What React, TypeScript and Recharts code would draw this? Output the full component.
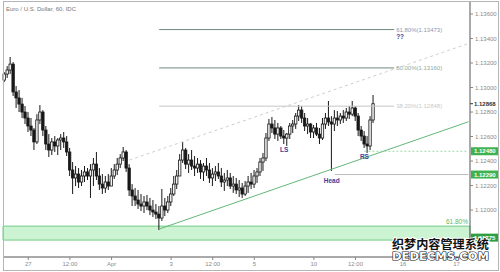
import React from 'react';
import {
  ComposedChart,
  Bar,
  XAxis,
  YAxis,
  ReferenceLine,
  ReferenceArea,
  ReferenceDot,
} from 'recharts';

// EUR/USD hourly candles (IDC feed)
const opens = [
  1.13061, 1.1311, 1.13143, 1.13191, 1.12964, 1.12915, 1.12865, 1.128, 1.12751, 1.12686,
  1.12653, 1.12556, 1.12735, 1.128, 1.12653, 1.12539, 1.1249, 1.12556, 1.12523, 1.12572,
  1.12588, 1.12556, 1.12474, 1.12327, 1.12262, 1.12294, 1.12229, 1.12278, 1.12311, 1.12278,
  1.12327, 1.12375, 1.12278, 1.12212, 1.1218, 1.12229, 1.12196, 1.12278, 1.12327, 1.12375,
  1.12425, 1.12474, 1.12343, 1.12164, 1.12115, 1.12082, 1.12049, 1.12033, 1.12066, 1.12033,
  1.12, 1.11984, 1.11967, 1.11935, 1.12033, 1.12, 1.12066, 1.12131, 1.12212, 1.12278,
  1.12408, 1.1249, 1.12375, 1.12408, 1.12359, 1.12343, 1.12375, 1.12311, 1.12359, 1.12327,
  1.12262, 1.12294, 1.12311, 1.12278, 1.12229, 1.12245, 1.12262, 1.12196, 1.12212, 1.12164,
  1.1218, 1.12131, 1.12196, 1.12229, 1.12212, 1.12278, 1.12311, 1.12392, 1.12425, 1.12588,
  1.12702, 1.1267, 1.1262, 1.1267, 1.12604, 1.12588, 1.1262, 1.12686, 1.12702, 1.12767,
  1.12816, 1.12751, 1.12686, 1.12702, 1.12637, 1.1267, 1.1262, 1.12588, 1.12702, 1.12751,
  1.12719, 1.12702, 1.12751, 1.12735, 1.12767, 1.12751, 1.128, 1.12783, 1.12833, 1.12767,
  1.12653, 1.12604, 1.12539, 1.12523, 1.12735,
];
const highs = [
  1.13127, 1.13175, 1.13249, 1.13208, 1.13012, 1.1298, 1.12915, 1.12849, 1.128, 1.12751,
  1.1267, 1.12783, 1.12857, 1.12816, 1.12686, 1.1262, 1.12588, 1.12604, 1.12588, 1.1262,
  1.12637, 1.12604, 1.12507, 1.12392, 1.12359, 1.12343, 1.12327, 1.12359, 1.12343, 1.12375,
  1.12425, 1.12474, 1.12343, 1.12294, 1.12278, 1.12294, 1.12343, 1.12375, 1.12425, 1.12457,
  1.12515, 1.1249, 1.12375, 1.12212, 1.1218, 1.12164, 1.12131, 1.12115, 1.12123, 1.12099,
  1.12082, 1.12049, 1.12033, 1.12172, 1.12099, 1.12115, 1.1218, 1.12278, 1.12327, 1.12457,
  1.12556, 1.12507, 1.12457, 1.1249, 1.12441, 1.12425, 1.12408, 1.12384, 1.12425, 1.12384,
  1.12343, 1.12359, 1.12384, 1.12343, 1.12303, 1.12327, 1.12303, 1.12278, 1.12262, 1.12245,
  1.12221, 1.12237, 1.12278, 1.12303, 1.12327, 1.12343, 1.12425, 1.12466, 1.12629, 1.12743,
  1.12759, 1.12735, 1.12711, 1.12686, 1.12653, 1.12629, 1.12711, 1.12735, 1.12792, 1.12857,
  1.12849, 1.12792, 1.12751, 1.12711, 1.12694, 1.12711, 1.1267, 1.12751, 1.12792, 1.1289,
  1.12767, 1.12816, 1.12808, 1.12792, 1.12816, 1.12833, 1.12849, 1.1289, 1.12849, 1.12792,
  1.12686, 1.12645, 1.12604, 1.12767, 1.12939,
];
const lows = [
  1.13045, 1.13078, 1.1311, 1.12931, 1.12833, 1.128, 1.12751, 1.12702, 1.12637, 1.12604,
  1.1249, 1.12539, 1.12702, 1.12604, 1.1249, 1.12433, 1.12449, 1.12474, 1.12449, 1.1249,
  1.12507, 1.12441, 1.12278, 1.12131, 1.12196, 1.1218, 1.12196, 1.12229, 1.12245, 1.12099,
  1.12196, 1.12245, 1.12164, 1.12131, 1.1214, 1.12164, 1.12196, 1.12254, 1.12286, 1.12343,
  1.124, 1.12311, 1.12115, 1.12033, 1.12033, 1.12009, 1.11992, 1.11976, 1.12, 1.11959,
  1.11943, 1.11927, 1.11837, 1.11911, 1.11951, 1.11976, 1.12033, 1.12115, 1.12172, 1.12278,
  1.12384, 1.12335, 1.12303, 1.12327, 1.12278, 1.12303, 1.12254, 1.12237, 1.12278, 1.12221,
  1.12196, 1.12237, 1.12254, 1.12188, 1.12156, 1.12196, 1.12172, 1.1214, 1.12131, 1.12107,
  1.12099, 1.12115, 1.1214, 1.12172, 1.1218, 1.12221, 1.12278, 1.12319, 1.124, 1.12564,
  1.12629, 1.1258, 1.12564, 1.1258, 1.12539, 1.12523, 1.1258, 1.12629, 1.12662, 1.12727,
  1.12711, 1.12645, 1.1262, 1.12588, 1.12588, 1.12604, 1.12539, 1.12572, 1.12662, 1.12686,
  1.12319, 1.12645, 1.12686, 1.12702, 1.12711, 1.12727, 1.12743, 1.12767, 1.12727, 1.12604,
  1.12564, 1.12507, 1.12466, 1.1249, 1.12711,
];
const closes = [
  1.1311, 1.13143, 1.13191, 1.12964, 1.12915, 1.12865, 1.128, 1.12751, 1.12686, 1.12653,
  1.12556, 1.12735, 1.128, 1.12653, 1.12539, 1.1249, 1.12556, 1.12523, 1.12572, 1.12588,
  1.12556, 1.12474, 1.12327, 1.12262, 1.12294, 1.12229, 1.12278, 1.12311, 1.12278, 1.12327,
  1.12375, 1.12278, 1.12212, 1.1218, 1.12229, 1.12196, 1.12278, 1.12327, 1.12375, 1.12425,
  1.12474, 1.12343, 1.12164, 1.12115, 1.12082, 1.12049, 1.12033, 1.12066, 1.12033, 1.12,
  1.11984, 1.11967, 1.11935, 1.12033, 1.12, 1.12066, 1.12131, 1.12212, 1.12278, 1.12408,
  1.1249, 1.12375, 1.12408, 1.12359, 1.12343, 1.12375, 1.12311, 1.12359, 1.12327, 1.12262,
  1.12294, 1.12311, 1.12278, 1.12229, 1.12245, 1.12262, 1.12196, 1.12212, 1.12164, 1.1218,
  1.12131, 1.12196, 1.12229, 1.12212, 1.12278, 1.12311, 1.12392, 1.12425, 1.12588, 1.12702,
  1.1267, 1.1262, 1.1267, 1.12604, 1.12588, 1.1262, 1.12686, 1.12702, 1.12767, 1.12816,
  1.12751, 1.12686, 1.12702, 1.12637, 1.1267, 1.1262, 1.12588, 1.12702, 1.12751, 1.12719,
  1.12702, 1.12751, 1.12735, 1.12767, 1.12751, 1.128, 1.12783, 1.12833, 1.12767, 1.12653,
  1.12604, 1.12539, 1.12523, 1.12735, 1.12868,
];

// total hourly slots on the time axis, the tail is left empty
const SLOTS = 157;
const timeTicks = [8, 22, 36, 56, 70, 84, 104, 118, 134, 152];
const timeLabels = ['27', '12:00', 'Apr', '3', '12:00', '5', '10', '12:00', '16', '17'];
const priceTicks = [1.12, 1.122, 1.124, 1.126, 1.128, 1.13, 1.132, 1.134, 1.136];

// fib retracement of the big swing (drawn from the Apr 2 low)
const fibPrices = [1.13473, 1.1316, 1.12848];
const fibNames = ['61.80%', '50.00%', '38.20%'];
const fibColors = ['#6f8b7e', '#6f8b7e', '#c6c6c6'];
const fibTextColors = ['#8c96b8', '#8fab9c', '#c9c9c9'];

const supportLevels = [1.1248, 1.1229];
const zoneLow = 1.11755;
const zoneHigh = 1.11869;
const zoneTag = 1.11775;
const lastPrice = 1.12868;

const data = Array.from({ length: SLOTS }, (_, i) =>
  i < opens.length
    ? { i, o: opens[i], h: highs[i], l: lows[i], c: closes[i] }
    : { i },
);

const FONT = '"Liberation Sans", Arial, sans-serif';
const INK = '#181818';

function Candle(props: any) {
  const { x, y, width, height, payload } = props;
  if (!payload || payload.o == null || height == null || isNaN(y)) return null;
  const { o, h, l, c } = payload;
  const top = Math.min(y, y + height);
  const tall = Math.abs(height);
  const span = h - l || 1e-9;
  const toY = (v: number) => top + ((h - v) / span) * tall;
  const cx = x + width / 2;
  const bTop = toY(Math.max(o, c));
  const bBot = toY(Math.min(o, c));
  const up = c >= o;
  return (
    <g>
      <line x1={cx} x2={cx} y1={top} y2={top + tall} stroke={INK} strokeWidth={1} />
      <rect
        x={x}
        y={bTop}
        width={width}
        height={Math.max(bBot - bTop, 1)}
        fill={up ? '#f4f4f4' : INK}
        stroke={INK}
        strokeWidth={0.8}
      />
    </g>
  );
}

// green price tag sitting on the right axis
function AxisTag({ viewBox, text, fill }: any) {
  if (!viewBox) return null;
  const x = viewBox.x + viewBox.width + 1;
  const y = viewBox.y;
  return (
    <g>
      <rect x={x} y={y - 4} width={27} height={8} fill={fill} />
      <text x={x + 3} y={y + 2.2} fontSize={6} fill="#fff" fontWeight={700} fontFamily={FONT}>
        {text}
      </text>
    </g>
  );
}

function LastTag({ viewBox }: any) {
  if (!viewBox) return null;
  const x = viewBox.x + viewBox.width;
  const y = viewBox.y;
  return (
    <g>
      <line x1={x} x2={x + 3} y1={y} y2={y} stroke="#333" />
      <text x={x + 4} y={y + 2.2} fontSize={6} fill="#333" fontWeight={700} fontFamily={FONT}>
        {lastPrice.toFixed(5)}
      </text>
    </g>
  );
}

const noteStyle = { fill: '#3b3f9a', fontSize: 6.5, fontWeight: 700, fontFamily: FONT };

export default function App() {
  return (
    <div style={{ position: 'absolute', left: 0, top: 0, width: 500, height: 272, background: '#fff', fontFamily: FONT }}>
      <ComposedChart
        width={500}
        height={272}
        data={data}
        margin={{ top: 2, right: 0, bottom: 0, left: 3 }}
        barCategoryGap={0}
      >
        <ReferenceArea
          y1={zoneLow}
          y2={zoneHigh}
          fill="#ccf3d2"
          fillOpacity={1}
          stroke="#74cc86"
          strokeWidth={1}
        />
        <XAxis
          dataKey="i"
          type="category"
          ticks={timeTicks}
          interval={0}
          tickFormatter={(v: number) => timeLabels[timeTicks.indexOf(v)] ?? ''}
          tick={{ fontSize: 6, fill: '#8a8a8a' }}
          tickSize={3}
          tickLine={{ stroke: '#888' }}
          axisLine={{ stroke: '#555' }}
          height={15}
        />
        <YAxis
          orientation="right"
          type="number"
          domain={[1.11617, 1.13698]}
          allowDataOverflow
          ticks={priceTicks}
          interval={0}
          tickFormatter={(v: number) => v.toFixed(5)}
          tick={{ fontSize: 6, fill: '#8a8a8a', textAnchor: 'start' }}
          tickSize={3}
          tickLine={{ stroke: '#888' }}
          axisLine={{ stroke: '#555' }}
          width={30}
        />

        {/* trend channel */}
        <ReferenceLine
          segment={[{ x: 42, y: 1.12408 }, { x: 156, y: 1.13359 }]}
          stroke="#cfcfcf"
          strokeDasharray="3 3"
        />
        <ReferenceLine
          segment={[{ x: 52, y: 1.11845 }, { x: 156, y: 1.12721 }]}
          stroke="#63b77a"
          strokeWidth={1}
        />

        {fibPrices.map((p, k) => (
          <ReferenceLine
            key={p}
            segment={[{ x: 52, y: p }, { x: 131, y: p }]}
            stroke={fibColors[k]}
            strokeWidth={1}
            label={{
              value: `${fibNames[k]}(${p.toFixed(5)})`,
              position: 'right',
              offset: 2,
              fill: fibTextColors[k],
              fontSize: 6,
              fontFamily: FONT,
            }}
          />
        ))}

        <ReferenceLine
          segment={[{ x: 121, y: supportLevels[0] }, { x: 156, y: supportLevels[0] }]}
          stroke="#9fd8a8"
          strokeDasharray="2 2"
        />
        <ReferenceLine
          segment={[{ x: 111, y: supportLevels[1] }, { x: 156, y: supportLevels[1] }]}
          stroke="#bdbdbd"
        />
        <ReferenceLine
          y={zoneHigh}
          stroke="none"
          label={{ value: '61.80%', position: 'insideBottomRight', offset: 2, fill: '#5cb86c', fontSize: 6.5, fontFamily: FONT }}
        />

        <Bar
          dataKey={(d: any) => (d.h == null ? null : [d.l, d.h])}
          barSize={2.4}
          shape={<Candle />}
          isAnimationActive={false}
        />

        <ReferenceDot x={131} y={1.13412} r={0} fill="none" stroke="none"
          label={{ value: '??', position: 'right', offset: 2, ...noteStyle }} />
        <ReferenceDot x={94} y={1.1249} r={0} fill="none" stroke="none"
          label={{ value: 'LS', position: 'center', ...noteStyle }} />
        <ReferenceDot x={110} y={1.12237} r={0} fill="none" stroke="none"
          label={{ value: 'Head', position: 'center', ...noteStyle }} />
        <ReferenceDot x={121} y={1.12433} r={0} fill="none" stroke="none"
          label={{ value: 'RS', position: 'center', ...noteStyle }} />

        {/* axis tags */}
        <ReferenceLine y={supportLevels[0]} stroke="none"
          label={<AxisTag text={supportLevels[0].toFixed(5)} fill="#3fb24f" />} />
        <ReferenceLine y={supportLevels[1]} stroke="none"
          label={<AxisTag text={supportLevels[1].toFixed(5)} fill="#3fb24f" />} />
        <ReferenceLine y={zoneTag} stroke="none"
          label={<AxisTag text={zoneTag.toFixed(5)} fill="#2f9e42" />} />
        <ReferenceLine y={lastPrice} stroke="none" label={<LastTag />} />
      </ComposedChart>

      <div style={{ position: 'absolute', left: 6, top: 6, fontSize: 6, color: '#777', fontFamily: FONT }}>
        Euro / U.S. Dollar, 60, IDC
      </div>
      <div
        style={{
          position: 'absolute',
          left: 3,
          top: 1,
          width: 494,
          height: 268,
          border: '1px solid #b5b5b5',
          pointerEvents: 'none',
        }}
      />
      <svg width={500} height={272} style={{ position: 'absolute', left: 0, top: 0, pointerEvents: 'none' }}>
        <text
          x={392}
          y={249}
          fontSize={12}
          fontWeight={700}
          fontFamily='"Noto Sans CJK SC", sans-serif'
          fill="#111"
          stroke="#fff"
          strokeWidth={2}
          paintOrder="stroke"
          textLength={97}
          lengthAdjust="spacingAndGlyphs"
        >
          织梦内容管理系统
        </text>
        <text
          x={392}
          y={259.5}
          fontSize={10}
          fontWeight={700}
          fontFamily='"DejaVu Sans", sans-serif'
          fill="#fff"
          stroke="#111"
          strokeWidth={1.1}
          paintOrder="stroke"
          textLength={97}
          lengthAdjust="spacingAndGlyphs"
        >
          DEDECMS.COM
        </text>
      </svg>
    </div>
  );
}
